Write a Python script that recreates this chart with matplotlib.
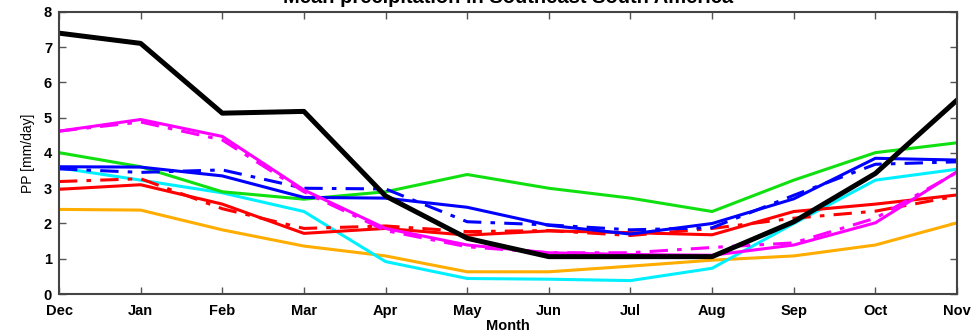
import matplotlib.pyplot as plt


# 月份（12 月到次年 11 月）
MONTHS = ["Dec", "Jan", "Feb", "Mar", "Apr", "May", "Jun", "Jul", "Aug", "Sep", "Oct", "Nov"]

# 各序列降水量 (mm/day)
black_obs = [7.40, 7.11, 5.13, 5.18, 2.78, 1.58, 1.06, 1.06, 1.06, 2.05, 3.42, 5.50]
magenta_solid = [4.62, 4.95, 4.47, 2.95, 1.86, 1.39, 1.17, 1.12, 1.10, 1.39, 2.02, 3.47]
magenta_dashdot = [4.62, 4.88, 4.37, 2.90, 1.80, 1.34, 1.17, 1.17, 1.32, 1.45, 2.15, 3.45]
green_solid = [4.01, 3.61, 2.90, 2.69, 2.90, 3.39, 3.00, 2.72, 2.34, 3.23, 4.01, 4.29]
blue_solid = [3.61, 3.60, 3.35, 2.74, 2.72, 2.46, 1.95, 1.70, 2.00, 2.70, 3.85, 3.80]
blue_dashdot = [3.55, 3.45, 3.52, 3.00, 2.98, 2.05, 1.96, 1.82, 1.88, 2.80, 3.68, 3.75]
red_solid = [2.97, 3.10, 2.55, 1.72, 1.86, 1.67, 1.79, 1.74, 1.68, 2.34, 2.55, 2.81]
red_dashdot = [3.19, 3.27, 2.42, 1.86, 1.93, 1.77, 1.80, 1.66, 1.86, 2.15, 2.35, 2.78]
cyan_solid = [3.58, 3.23, 2.87, 2.34, 0.92, 0.44, 0.42, 0.38, 0.73, 2.00, 3.23, 3.54]
orange_solid = [2.40, 2.38, 1.82, 1.36, 1.08, 0.63, 0.63, 0.79, 0.96, 1.08, 1.39, 2.02]

DASHDOT = (0, (6, 3, 1.5, 3))


def main():
    plt.rcParams["font.family"] = ["Liberation Sans", "DejaVu Sans"]

    fig = plt.figure(figsize=(9.72, 3.36), dpi=100)
    ax = fig.add_axes([0.0607, 0.125, 0.9239, 0.8393])

    x = list(range(len(MONTHS)))

    ax.plot(x, orange_solid, color="#ffad00", linewidth=2.2)
    ax.plot(x, cyan_solid, color="#00f0ff", linewidth=2.2)
    ax.plot(x, red_dashdot, color="#ff0000", linewidth=2.2, linestyle=DASHDOT)
    ax.plot(x, red_solid, color="#ff0000", linewidth=2.2)
    ax.plot(x, green_solid, color="#10e010", linewidth=2.2)
    ax.plot(x, blue_dashdot, color="#0000ff", linewidth=2.2, linestyle=DASHDOT)
    ax.plot(x, blue_solid, color="#0000ff", linewidth=2.2)
    ax.plot(x, magenta_dashdot, color="#ff00ff", linewidth=2.2, linestyle=DASHDOT)
    ax.plot(x, magenta_solid, color="#ff00ff", linewidth=2.2)
    ax.plot(x, black_obs, color="black", linewidth=3.6)

    ax.set_xlim(0, len(MONTHS) - 1)
    ax.set_ylim(0, 8)
    ax.set_xticks(x)
    ax.set_xticklabels(MONTHS, fontsize=10.5, fontweight="bold")
    ax.set_yticks(range(0, 9))
    ax.set_yticklabels([str(v) for v in range(0, 9)], fontsize=10.5, fontweight="bold")

    ax.tick_params(direction="in", top=True, right=True, length=5, width=1,
                   color="#555555")
    ax.tick_params(axis="x", pad=7)
    ax.tick_params(axis="y", pad=5)
    for spine in ax.spines.values():
        spine.set_linewidth(1.5)
        spine.set_color("#444444")

    ax.set_xlabel("Month", fontsize=10.5, fontweight="bold", labelpad=1)
    ax.set_ylabel("PP [mm/day]", fontsize=10, labelpad=6)

    # 标题大部分在图片上方被裁掉
    fig.text(0.5226, 1 - 3 / 336, "Mean precipitation in Southeast South America",
             ha="center", va="baseline", fontsize=14.5, fontweight="bold")

    fig.savefig("out.png", dpi=100)
    plt.close(fig)


if __name__ == "__main__":
    main()
